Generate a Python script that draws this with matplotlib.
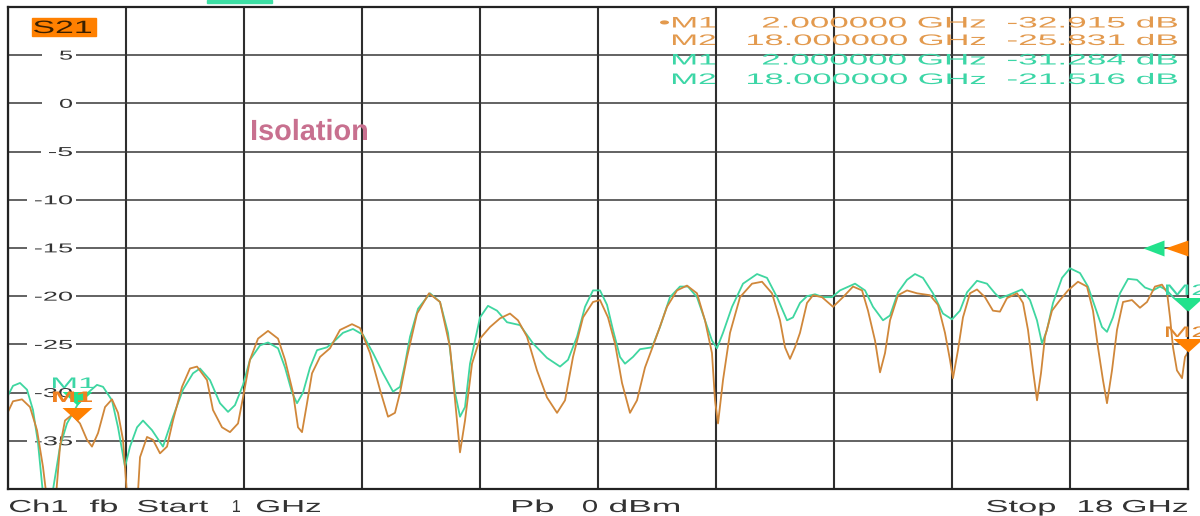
import numpy as np
import matplotlib
matplotlib.use("Agg")
import matplotlib.pyplot as plt
from matplotlib import patheffects
from matplotlib import transforms as mtrans
from matplotlib.path import Path
from matplotlib.patches import Rectangle

# ---------------- data ----------------
green_f = [1.000, 1.072, 1.173, 1.274, 1.360, 1.432, 1.504, 1.605, 1.677, 1.749,
           1.850, 2.000, 2.138, 2.282, 2.369, 2.498, 2.585, 2.686, 2.758, 2.859,
           2.945, 3.075, 3.233, 3.377, 3.521, 3.665, 3.766, 3.910, 4.054, 4.170,
           4.270, 4.386, 4.486, 4.631, 4.746, 4.890, 4.991, 5.092, 5.164, 5.250,
           5.351, 5.452, 5.596, 5.682, 5.826, 5.970, 6.114, 6.259, 6.403, 6.547,
           6.648, 6.720, 6.792, 6.907, 7.080, 7.224, 7.339, 7.440, 7.512, 7.584,
           7.656, 7.800, 7.915, 8.045, 8.189, 8.376, 8.564, 8.765, 8.953, 9.068,
           9.198, 9.313, 9.428, 9.529, 9.630, 9.716, 9.817, 9.889, 10.004, 10.105,
           10.278, 10.393, 10.537, 10.681, 10.796, 10.926, 11.041, 11.142, 11.214, 11.301,
           11.431, 11.589, 11.791, 11.935, 12.079, 12.223, 12.309, 12.410, 12.511, 12.626,
           12.742, 12.871, 12.986, 13.203, 13.347, 13.462, 13.606, 13.707, 13.822, 13.952,
           14.067, 14.182, 14.326, 14.470, 14.600, 14.715, 14.816, 14.960, 15.104, 15.219,
           15.291, 15.407, 15.608, 15.724, 15.824, 15.897, 15.968, 16.055, 16.185, 16.300,
           16.444, 16.559, 16.660, 16.761, 16.833, 16.919, 17.020, 17.136, 17.265, 17.380,
           17.496, 17.597, 17.697, 17.784, 17.913, 18.000]
green_db = [-30.3, -29.3, -29.0, -29.7, -31.8, -35.2, -40.5, -42.0, -38.8, -35.6,
            -33.2, -31.284, -30.1, -29.2, -29.4, -30.8, -33.6, -37.7, -35.6, -33.6,
            -32.9, -33.9, -35.6, -32.5, -29.7, -28.0, -27.5, -28.7, -31.1, -32.0,
            -31.3, -29.2, -26.6, -25.1, -24.8, -25.4, -27.4, -30.0, -31.1, -30.0,
            -27.4, -25.6, -25.3, -24.8, -23.8, -23.4, -24.0, -25.9, -28.0, -29.9,
            -29.4, -27.0, -24.2, -21.3, -19.7, -20.6, -23.8, -30.0, -32.5, -31.5,
            -27.0, -22.2, -21.0, -21.5, -22.7, -23.0, -24.9, -26.4, -27.3, -26.6,
            -24.2, -21.1, -19.4, -19.4, -20.9, -23.5, -26.3, -27.0, -26.3, -25.5,
            -25.3, -23.2, -20.1, -19.0, -19.0, -20.1, -22.5, -24.6, -25.4, -23.8,
            -21.1, -18.7, -17.7, -18.1, -20.1, -22.5, -22.2, -20.7, -20.0, -19.8,
            -20.1, -20.1, -19.4, -18.7, -19.4, -21.1, -22.5, -22.0, -19.6, -18.3,
            -17.7, -18.1, -19.7, -21.8, -22.4, -21.5, -19.6, -18.4, -18.7, -19.7,
            -20.2, -19.9, -19.3, -20.4, -22.5, -24.9, -23.5, -20.7, -18.1, -17.1,
            -17.6, -19.0, -21.1, -23.2, -23.7, -22.2, -19.7, -18.2, -18.3, -19.1,
            -19.4, -19.0, -19.4, -20.1, -20.9, -21.516]

orange_f = [1.000, 1.072, 1.202, 1.317, 1.418, 1.504, 1.576, 1.677, 1.749, 1.821,
            1.922, 2.000, 2.037, 2.138, 2.210, 2.297, 2.398, 2.498, 2.585, 2.657,
            2.729, 2.859, 2.902, 3.003, 3.089, 3.190, 3.291, 3.377, 3.507, 3.622,
            3.723, 3.867, 3.953, 4.083, 4.198, 4.314, 4.386, 4.486, 4.602, 4.746,
            4.890, 4.991, 5.106, 5.178, 5.236, 5.308, 5.380, 5.495, 5.639, 5.783,
            5.956, 6.071, 6.215, 6.359, 6.475, 6.575, 6.648, 6.749, 6.893, 7.066,
            7.224, 7.368, 7.440, 7.512, 7.584, 7.685, 7.800, 7.944, 8.088, 8.232,
            8.347, 8.477, 8.621, 8.765, 8.910, 9.025, 9.140, 9.284, 9.428, 9.529,
            9.644, 9.745, 9.846, 9.961, 10.062, 10.177, 10.321, 10.494, 10.638, 10.782,
            10.926, 11.041, 11.142, 11.186, 11.229, 11.301, 11.402, 11.546, 11.719, 11.863,
            12.007, 12.122, 12.194, 12.266, 12.338, 12.410, 12.511, 12.598, 12.727, 12.886,
            13.030, 13.174, 13.304, 13.390, 13.491, 13.563, 13.635, 13.707, 13.822, 13.952,
            14.096, 14.283, 14.398, 14.499, 14.571, 14.614, 14.686, 14.758, 14.859, 14.960,
            15.075, 15.190, 15.291, 15.392, 15.537, 15.623, 15.695, 15.767, 15.825, 15.882,
            15.940, 16.041, 16.156, 16.271, 16.415, 16.545, 16.631, 16.703, 16.775, 16.833,
            16.905, 16.977, 17.064, 17.193, 17.308, 17.409, 17.524, 17.625, 17.698, 17.741,
            17.784, 17.841, 17.914, 17.957, 18.000]
orange_db = [-32.0, -30.9, -30.7, -31.5, -33.9, -37.7, -42.0, -42.0, -35.6, -32.9,
             -32.3, -32.915, -33.2, -34.9, -35.6, -34.2, -31.5, -30.7, -32.1, -34.9,
             -42.0, -42.0, -36.7, -34.6, -34.9, -36.3, -35.6, -32.9, -29.4, -27.5,
             -27.3, -28.7, -31.8, -33.6, -34.1, -33.2, -30.5, -26.6, -24.4, -23.6,
             -24.4, -26.6, -30.0, -33.6, -34.1, -31.1, -28.0, -26.3, -25.4, -23.5,
             -22.9, -23.3, -25.9, -29.7, -32.5, -32.1, -30.0, -26.3, -21.8, -19.7,
             -20.6, -25.3, -30.8, -36.2, -32.9, -27.0, -24.4, -23.2, -22.3, -21.8,
             -22.5, -24.2, -27.7, -30.5, -32.1, -30.8, -26.3, -22.2, -20.6, -20.4,
             -22.2, -24.9, -29.0, -32.1, -30.8, -27.4, -24.6, -21.1, -19.4, -18.9,
             -19.7, -22.5, -25.9, -30.8, -33.2, -28.7, -23.8, -20.1, -18.7, -18.5,
             -19.7, -22.5, -25.3, -26.5, -25.3, -23.8, -20.7, -19.9, -20.1, -21.1,
             -20.1, -19.0, -19.4, -21.5, -24.6, -27.9, -25.9, -22.5, -19.9, -19.4,
             -19.7, -19.9, -20.9, -23.8, -26.6, -28.5, -25.6, -22.2, -19.7, -19.3,
             -20.1, -21.5, -21.6, -20.2, -19.7, -20.7, -23.5, -27.7, -30.8, -28.0,
             -24.2, -21.5, -20.4, -19.4, -18.5, -19.0, -21.5, -25.3, -28.7, -31.1,
             -27.7, -23.5, -20.6, -20.4, -21.2, -20.6, -19.0, -18.8, -19.6, -22.2,
             -25.3, -27.7, -28.5, -26.3, -25.831]

marker_names = ["M1", "M2"]
marker_f = [2.0, 18.0]
orange_marker_db = [-32.915, -25.831]
green_marker_db = [-31.284, -21.516]
ref_level_db = -15.0

f_start, f_stop = 1.0, 18.0
y_min, y_max = -40.0, 10.0
y_tick_values = [5, 0, -5, -10, -15, -20, -25, -30, -35]
trace_label = "S21"
annotation = "Isolation"
footer_words = ["Ch1", "fb", "Start", "1", "GHz", "Pb", "0", "dBm", "Stop", "18", "GHz"]

# ---------------- style ----------------
GREEN = "#3FD6A0"
ORANGE = "#D0873A"
GREEN_TXT = "#3CD6A6"
ORANGE_TXT = "#E39A4E"
ORANGE_MK = "#FF8000"
GREEN_MK = "#22E28C"
GRID = "#2e2e2e"
TXT = "#333333"

plt.rcParams["font.family"] = ["Liberation Sans", "DejaVu Sans"]

W, H = 1200, 516
fig = plt.figure(figsize=(W / 100, H / 100), dpi=100)
fig.patch.set_facecolor("white")
# pixel coordinates of the screenshot (origin top-left)
PX = mtrans.Affine2D().scale(1 / W, -1 / H).translate(0, 1) + fig.transFigure


class Fit(patheffects.AbstractPathEffect):
    """Draw text stretched horizontally so its ink spans [x0, x1] (screenshot pixels)."""

    def __init__(self, x0, x1, vcenter=False, box=None):
        super().__init__()
        self.x0, self.x1, self.vcenter, self.box = x0, x1, vcenter, box

    def draw_path(self, renderer, gc, tpath, affine, rgbFace=None):
        k = getattr(renderer, "dpi", 100) / 100.0
        ext = tpath.get_extents(affine)
        sx = (self.x1 - self.x0) * k / max(ext.width, 1e-9)
        t = mtrans.Affine2D().translate(-ext.x0, 0).scale(sx, 1).translate(self.x0 * k, 0)
        yanchor = affine.get_matrix()[1, 2]
        if self.vcenter:
            t = t.translate(0, yanchor - (ext.y0 + ext.y1) / 2)
        if self.box is not None:
            xa, xb, hh = self.box
            yc = yanchor if self.vcenter else (ext.y0 + ext.y1) / 2
            rect = Path([(xa * k, yc - hh * k), (xb * k, yc - hh * k), (xb * k, yc + hh * k),
                         (xa * k, yc + hh * k), (xa * k, yc - hh * k)], closed=True)
            renderer.draw_path(gc, rect, mtrans.IdentityTransform(), (1, 1, 1, 1))
        renderer.draw_path(gc, tpath, affine + t, rgbFace)


def ftext(s, x0, x1, base, size, color, weight="normal", z=5):
    t = fig.text(x0 / W, 1 - base / H, s, ha="left", va="baseline", fontsize=size,
                 color=color, fontweight=weight, zorder=z)
    t.set_path_effects([Fit(x0, x1)])
    return t


# ---------------- axes ----------------
ax = fig.add_axes([8 / W, 1 - 489 / H, 1180 / W, 482 / H])
ax.set_xlim(f_start, f_stop)
ax.set_ylim(y_min, y_max)
ax.set_xticks(np.linspace(f_start, f_stop, 11))
ax.set_yticks(np.arange(y_min, y_max + 0.1, 5))
ax.tick_params(length=0, labelbottom=False, labelleft=False)
ax.set_axisbelow(True)
ax.xaxis.grid(True, color=GRID, lw=1.5)
ax.yaxis.grid(True, color="#383838", lw=1.1)
for sp in ax.spines.values():
    sp.set_color("#222222")
    sp.set_linewidth(1.6)

# y labels drawn inside the plot, with white gap in the grid line
ylab_tr = mtrans.blended_transform_factory(PX, ax.transData)
for v in y_tick_values:
    s = f"{v:g}"
    x0 = {1: 60, 2: 49}.get(len(s), 35)
    t = ax.text(72, v, s, transform=ylab_tr, ha="right", va="baseline",
                fontsize=9.3, color=TXT, zorder=1.5)
    t.set_path_effects([Fit(x0, 72, vcenter=True, box=(min(x0 - 8, 42), 76, 5))])

# traces
ax.plot(green_f, green_db, color=GREEN, lw=1.3, zorder=2, solid_joinstyle="round")
ax.plot(orange_f, orange_db, color=ORANGE, lw=1.3, zorder=2.1, solid_joinstyle="round")


def tip_marker(verts_px):
    v = np.array(verts_px, float)
    r = np.abs(v).max()
    path = Path(np.vstack([v, v[:1]]), closed=True)
    return path, 2 * r * 72 / 100


down_path, down_ms = tip_marker([(-15, 13.5), (15, 13.5), (0, 0)])
for vals, col in ((green_marker_db, GREEN_MK), (orange_marker_db, ORANGE_MK)):
    ax.plot(marker_f, vals, ls="none", marker=down_path, markersize=down_ms,
            color=col, markeredgewidth=0, clip_on=False, zorder=4)

# reference level arrows at the right edge
ref_o, ms_o = tip_marker([(-23, 0), (0, 8), (0, -8)])
ref_g, ms_g = tip_marker([(-45, 0), (-24, 8), (-24, -8)])
ax.plot([f_stop], [ref_level_db], ls="none", marker=ref_g, markersize=ms_g,
        color=GREEN_MK, markeredgewidth=0, clip_on=False, zorder=4)
ax.plot([f_stop], [ref_level_db], ls="none", marker=ref_o, markersize=ms_o,
        color=ORANGE_MK, markeredgewidth=0, clip_on=False, zorder=4)

# ---------------- decorations ----------------
fig.add_artist(Rectangle((32, 18), 64, 18, transform=PX, color="#FF8000", zorder=2))
fig.add_artist(Rectangle((207, 0), 65, 2.5, transform=PX, color="#3DE0A5", zorder=2))
ftext(trace_label, 34, 91, 33, 12.8, "#3a2000")

ftext(annotation, 252, 367, 140, 21, "#C8708F", weight="bold")

# marker table (top right)
rows = [(ORANGE_TXT, orange_marker_db, [27.5, 45.0]),
        (GREEN_TXT, green_marker_db, [64.5, 84.0])]
for ti, (col, vals, bases) in enumerate(rows):
    for i, (name, f, v) in enumerate(zip(marker_names, marker_f, vals)):
        b = bases[i]
        if ti == 0 and i == 0:
            ftext("\u2022" + name, 660, 715, b, 11, col)
        else:
            ftext(name, 673, 715, b, 11, col)
        fs = f"{f:.6f} GHz"
        ftext(fs, 763 if f < 10 else 748, 985, b, 11, col)
        ftext(f"{v:.3f} dB", 1008, 1177, b, 11, col)

# marker labels on the plot
ftext(marker_names[0], 53, 95, 388, 11, GREEN_TXT, z=6)
ftext(marker_names[0], 53, 92, 402, 11, "#F08020", weight="bold", z=6)
ftext(marker_names[1], 1166, 1208, 295, 11, GREEN_TXT, z=6)
ftext(marker_names[1], 1166, 1208, 337, 11, "#E08830", z=6)

# footer
footer_pos = [(10, 67), (90, 117), (138, 208), (233, 240), (257, 320),
              (513, 553), (583, 597), (610, 679),
              (987, 1055), (1079, 1112), (1123, 1187)]
for w, (a, b) in zip(footer_words, footer_pos):
    ftext(w, a, b, 512, 12.5, TXT)

fig.savefig("out.png", dpi=100, facecolor="white")
